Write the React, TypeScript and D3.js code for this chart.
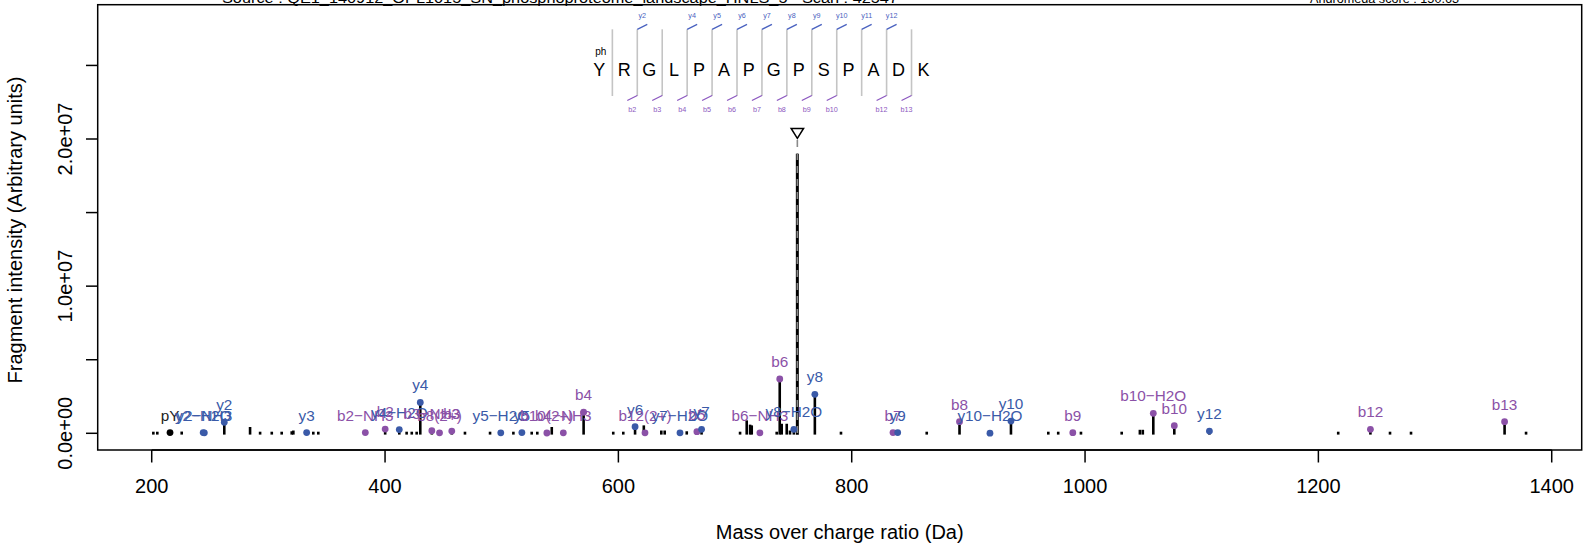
import React from "react";
import * as d3 from "d3";

// ---- data ----
const peakMz = [201.4, 204.8, 215.7, 225.7, 244.1, 245.1, 262.2, 284.3, 292.9, 302.9, 311.4, 320.0, 321.4, 332.8, 338.5, 342.8,
  383.1, 400.1, 412.2, 418.5, 422.9, 427.1, 430.2, 440.1, 446.7, 457.2, 468.5, 490.0, 499.2, 510.0, 517.3, 525.7, 530.5, 538.7,
  542.9, 552.8, 570.2, 595.6, 604.2, 614.3, 621.8, 622.8, 636.8, 639.7, 652.8, 658.6, 667.3, 671.3, 704.3, 710.0, 712.9, 714.3,
  721.3, 735.7, 738.3, 740.0, 744.3, 747.1, 750.4, 753.4, 768.4, 790.8, 835.4, 839.4, 864.3, 892.4, 918.5, 936.5, 968.5, 977.0,
  989.5, 996.5, 1031.4, 1047.0, 1049.5, 1058.5, 1076.5, 1106.6, 1217.0, 1244.6, 1261.4, 1279.4, 1359.6, 1378.0];
const peakIntensity = [2e4, 2e4, 5e4, 3e4, 5e4, 3e4, 7.5e5, 3.4e5, 2e4, 2e4, 2e4, 5e4, 1e5, 5e4, 2e4, 2e4,
  5e4, 2.9e5, 2.5e5, 2e4, 2e4, 2e4, 2.1e6, 1.8e5, 3e4, 1.5e5, 2e4, 2e4, 3e4, 2e4, 5e4, 2e4, 2e4, 2e4,
  3.4e5, 3e4, 1.43e6, 2e4, 2e4, 4.5e5, 4.5e5, 3e4, 1e5, 1e5, 3e4, 5e4, 1.1e5, 2.7e5, 2e4, 7.9e5, 5e5, 4.5e5,
  3e4, 2e4, 3.69e6, 5.6e5, 5.6e5, 1e5, 2.7e5, 1.89e7, 2.65e6, 2e4, 5e4, 5e4, 2e4, 7.9e5, 1e4, 8.3e5, 2e4, 2e4,
  4e4, 2e4, 2e4, 1.5e5, 1.5e5, 1.36e6, 5.2e5, 1.5e5, 2e4, 2.7e5, 2e4, 2e4, 7.9e5, 2e4];

const ionLabel = ["pY", "y2−NH3", "y2−H2O", "y2", "y3", "b2−NH3", "b2", "y4−H2O", "y4", "b3−NH3", "b8(2+)", "b3",
  "y5−H2O", "y5", "b10(2+)", "b4−NH3", "b4", "y6", "b12(2+)", "y7−H2O", "b5", "y7", "b6−NH3", "b6", "y8−H2O", "y8",
  "b7", "y9", "b8", "y10−H2O", "y10", "b9", "b10−H2O", "b10", "y12", "b12", "b13"];
const ionMz = [215.7, 245.1, 244.1, 262.2, 332.8, 383.1, 400.1, 412.2, 430.2, 440.1, 446.7, 457.2,
  499.2, 517.3, 538.7, 552.8, 570.2, 614.3, 622.8, 652.8, 667.3, 671.3, 721.3, 738.3, 750.4, 768.4,
  835.4, 839.4, 892.4, 918.5, 936.5, 989.5, 1058.5, 1076.5, 1106.6, 1244.6, 1359.6];
const ionIntensity = [5e4, 3e4, 5e4, 7.5e5, 5e4, 5e4, 2.9e5, 2.5e5, 2.1e6, 1.8e5, 3e4, 1.5e5,
  3e4, 5e4, 2e4, 3e4, 1.43e6, 4.5e5, 3e4, 3e4, 1.1e5, 2.7e5, 3e4, 3.69e6, 2.7e5, 2.65e6,
  5e4, 5e4, 7.9e5, 1e4, 8.3e5, 4e4, 1.36e6, 5.2e5, 1.5e5, 2.7e5, 7.9e5];
const ionKind = ["other", "y", "y", "y", "y", "b", "b", "y", "y", "b", "b", "b",
  "y", "y", "b", "b", "b", "y", "b", "y", "b", "y", "b", "b", "y", "y",
  "b", "y", "b", "y", "y", "b", "b", "b", "y", "b", "b"];

const precursorMz = 753.4;

const xTicks = [200, 400, 600, 800, 1000, 1200, 1400];
const yTicks = [0, 5e6, 1e7, 1.5e7, 2e7, 2.5e7];
const yTickLabels: Record<number, string> = { 0: "0.0e+00", 10000000: "1.0e+07", 20000000: "2.0e+07" };

const sequence = ["Y", "R", "G", "L", "P", "A", "P", "G", "P", "S", "P", "A", "D", "K"];
const yMarkGaps = [2, 4, 5, 6, 7, 8, 9, 10, 11, 12];
const yMarkLabels = ["y2", "y4", "y5", "y6", "y7", "y8", "y9", "y10", "y11", "y12"];
const bMarkGaps = [2, 3, 4, 5, 6, 7, 8, 9, 10, 12, 13];
const bMarkLabels = ["b2", "b3", "b4", "b5", "b6", "b7", "b8", "b9", "b10", "b12", "b13"];

const titleLeft = "Source : QE1_140912_OPL1015_SN_phosphoproteome_landscape_HNLS_5 - Scan : 42547";
const titleRight = "Andromeda score : 150.63";

const FONT = "'Liberation Sans', Arial, Helvetica, sans-serif";
const PURPLE = "#8b51a7";
const BLUE = "#3a5aa8";
const SEQ_BLUE = "#4a62c0";
const SEQ_PURPLE = "#8c58c0";

export default function App() {
  const W = 1596, H = 550;
  const left = 97.7, right = 1581.7, top = 4.7, bottom = 450;
  const x = d3.scaleLinear().domain([153.7, 1425.7]).range([left, right]);
  const y = d3.scaleLinear().domain([-1.135e6, 2.9127e7]).range([bottom, top]);
  const kindColor = (k: string) => (k === "b" ? PURPLE : k === "y" ? BLUE : "#000");

  const seqX0 = 599.3, seqStep = 24.93;
  const gapX = (g: number) => seqX0 + (g - 0.5) * seqStep + 0.6;
  const lineTop = 29.3, lineBot = 96;

  const px = x(precursorMz);

  return (
    <svg width={W} height={H} style={{ position: "absolute", left: 0, top: 0, background: "#fff" }} fontFamily={FONT}>
      {/* titles (cut at top) */}
      <text x={222} y={3} fontSize={14} textLength={676} lengthAdjust="spacingAndGlyphs">{titleLeft}</text>
      <text x={1310} y={3} fontSize={13} textLength={149} lengthAdjust="spacingAndGlyphs">{titleRight}</text>

      {/* plot box */}
      <rect x={left} y={top} width={right - left} height={bottom - top} fill="none" stroke="#000" strokeWidth={1.5} />

      {/* x axis */}
      <g>
        <line x1={x(xTicks[0])} x2={x(xTicks[xTicks.length - 1])} y1={bottom} y2={bottom} stroke="#000" strokeWidth={1.5} />
        {xTicks.map((t) => (
          <g key={t}>
            <line x1={x(t)} x2={x(t)} y1={bottom} y2={bottom + 12.5} stroke="#000" strokeWidth={1.5} />
            <text x={x(t)} y={493.3} fontSize={20} textAnchor="middle">{t}</text>
          </g>
        ))}
        <text x={(left + right) / 2} y={539} fontSize={20} textAnchor="middle">Mass over charge ratio (Da)</text>
      </g>

      {/* y axis */}
      <g>
        {yTicks.map((t) => (
          <g key={t}>
            <line x1={left - 11.7} x2={left} y1={y(t)} y2={y(t)} stroke="#000" strokeWidth={1.5} />
            {yTickLabels[t] !== undefined && (
              <text transform={`translate(71.5,${y(t)}) rotate(-90)`} fontSize={20} textAnchor="middle">{yTickLabels[t]}</text>
            )}
          </g>
        ))}
        <text transform={`translate(21.5,${230}) rotate(-90)`} fontSize={20} textAnchor="middle">Fragment intensity (Arbitrary units)</text>
      </g>

      {/* peaks */}
      <g>
        {peakMz.map((m, i) => (
          <line key={i} x1={x(m)} x2={x(m)} y1={y(0)} y2={y(peakIntensity[i])}
            stroke="#000" strokeWidth={m === precursorMz ? 3 : 2.6} strokeLinecap="square" />
        ))}
      </g>

      {/* precursor marker */}
      <line x1={px} x2={px} y1={140} y2={y(0)} stroke="#8a8a8a" strokeWidth={1.6} strokeDasharray="7,6" />
      <path d={`M${px - 6.2},128.5 L${px + 6.2},128.5 L${px},138.3 Z`} fill="none" stroke="#000" strokeWidth={1.5} />

      {/* annotated ions */}
      <g>
        {ionMz.map((m, i) => (
          <circle key={i} cx={x(m)} cy={y(ionIntensity[i])} r={3.4} fill={kindColor(ionKind[i])} />
        ))}
        {ionMz.map((m, i) => (
          <text key={"t" + i} x={x(m)} y={y(ionIntensity[i]) - 12} fontSize={15.3} textAnchor="middle"
            fill={ionKind[i] === "other" ? "#222" : kindColor(ionKind[i])}>{ionLabel[i]}</text>
        ))}
      </g>

      {/* sequence diagram */}
      <g>
        {sequence.slice(0, -1).map((_, i) => (
          <line key={"g" + i} x1={gapX(i + 1)} x2={gapX(i + 1)} y1={lineTop} y2={lineBot} stroke="#c4c4c4" strokeWidth={1.6} />
        ))}
        {sequence.map((aa, i) => (
          <text key={"s" + i} x={seqX0 + i * seqStep} y={76} fontSize={18} textAnchor="middle">{aa}</text>
        ))}
        <text x={600.7} y={55} fontSize={10} textAnchor="middle">ph</text>
        {yMarkGaps.map((g, i) => (
          <g key={"y" + i}>
            <line x1={gapX(g)} y1={lineTop} x2={gapX(g) + 10} y2={lineTop - 5} stroke={SEQ_BLUE} strokeWidth={1.3} />
            <text x={gapX(g) + 5} y={17.5} fontSize={7.2} textAnchor="middle" fill={SEQ_BLUE}>{yMarkLabels[i]}</text>
          </g>
        ))}
        {bMarkGaps.map((g, i) => (
          <g key={"b" + i}>
            <line x1={gapX(g) - 10} y1={lineBot + 4.5} x2={gapX(g)} y2={lineBot - 0.5} stroke={SEQ_PURPLE} strokeWidth={1.3} />
            <text x={gapX(g) - 5} y={112} fontSize={7.2} textAnchor="middle" fill={SEQ_PURPLE}>{bMarkLabels[i]}</text>
          </g>
        ))}
      </g>
    </svg>
  );
}
